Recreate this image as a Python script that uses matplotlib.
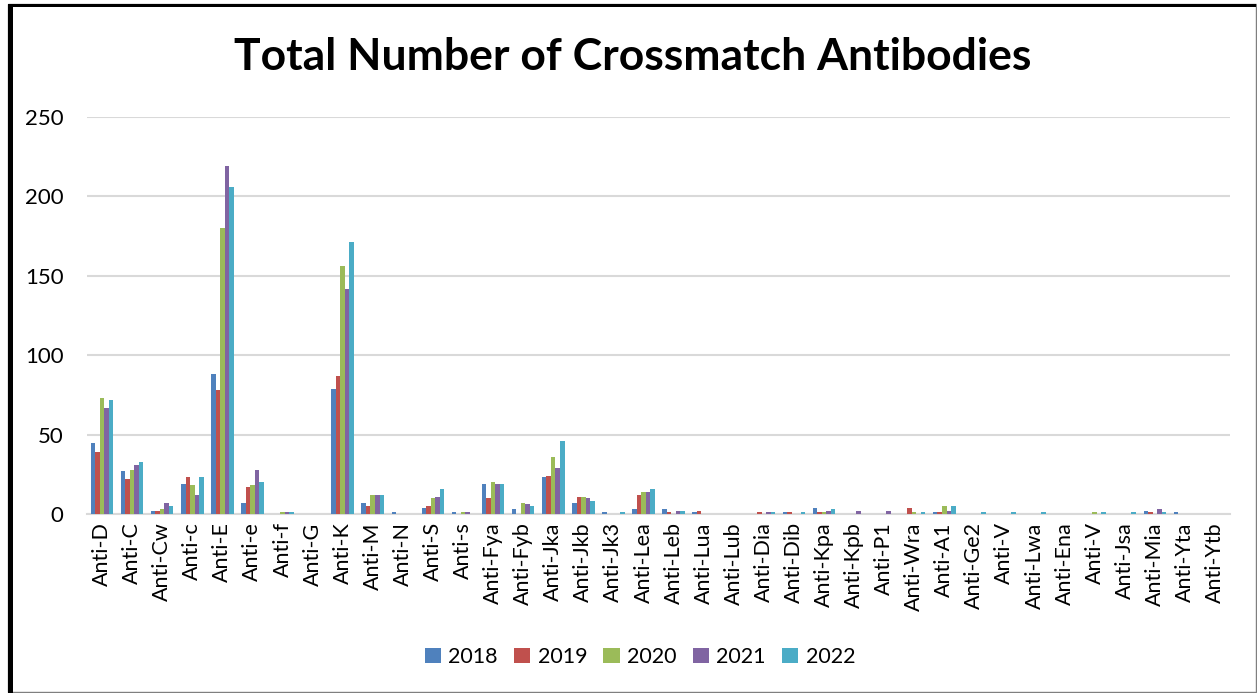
import matplotlib
matplotlib.use("Agg")
import matplotlib.pyplot as plt
from matplotlib.patches import Rectangle
import numpy as np

antibodies = ["Anti-D", "Anti-C", "Anti-Cw", "Anti-c", "Anti-E", "Anti-e", "Anti-f", "Anti-G",
              "Anti-K", "Anti-M", "Anti-N", "Anti-S", "Anti-s", "Anti-Fya", "Anti-Fyb", "Anti-Jka",
              "Anti-Jkb", "Anti-Jk3", "Anti-Lea", "Anti-Leb", "Anti-Lua", "Anti-Lub", "Anti-Dia",
              "Anti-Dib", "Anti-Kpa", "Anti-Kpb", "Anti-P1", "Anti-Wra", "Anti-A1", "Anti-Ge2",
              "Anti-V", "Anti-Lwa", "Anti-Ena", "Anti-V", "Anti-Jsa", "Anti-Mia", "Anti-Yta", "Anti-Ytb"]

y2018 = [45, 27, 2, 19, 88, 7, 0, 0, 79, 7, 1, 4, 1, 19, 3, 23, 7, 1, 3, 3, 1, 0, 0, 1, 4, 0, 0, 0, 1, 0, 0, 0, 0, 0, 0, 2, 1, 0]
y2019 = [39, 22, 2, 23, 78, 17, 0, 0, 87, 5, 0, 5, 0, 10, 0, 24, 11, 0, 12, 1, 2, 0, 1, 1, 1, 0, 0, 4, 1, 0, 0, 0, 0, 0, 0, 1, 0, 0]
y2020 = [73, 28, 3, 18, 180, 18, 1, 0, 156, 12, 0, 10, 1, 20, 7, 36, 11, 0, 14, 0, 0, 0, 0, 0, 1, 0, 0, 1, 5, 0, 0, 0, 0, 1, 0, 0, 0, 0]
y2021 = [67, 31, 7, 12, 219, 28, 1, 0, 142, 12, 0, 11, 1, 19, 6, 29, 10, 0, 14, 2, 0, 0, 1, 0, 2, 2, 2, 0, 2, 0, 0, 0, 0, 0, 0, 3, 0, 0]
y2022 = [72, 33, 5, 23, 206, 20, 1, 0, 171, 12, 0, 16, 0, 19, 5, 46, 8, 1, 16, 2, 0, 0, 1, 1, 3, 0, 0, 1, 5, 1, 1, 1, 0, 1, 1, 1, 0, 0]

years = ["2018", "2019", "2020", "2021", "2022"]
series = [y2018, y2019, y2020, y2021, y2022]
colors = ["#4F81BD", "#C0504D", "#9BBB59", "#8064A2", "#4BACC6"]

plt.rcParams['font.family'] = ['Lato', 'DejaVu Sans']

W, H = 1257, 693
fig = plt.figure(figsize=(W / 100, H / 100), dpi=100)
ax = fig.add_axes([87 / W, 1 - 514 / H, (1230 - 87) / W, (514 - 117) / H])

x = np.arange(len(antibodies))
bw = 0.15
for i, (yr, vals, c) in enumerate(zip(years, series, colors)):
    ax.bar(x + (i - 2) * bw, vals, width=bw, color=c, label=yr, zorder=3)

ax.set_xlim(-0.5, len(antibodies) - 0.5)
ax.set_ylim(0, 250)
ax.set_yticks(np.arange(0, 251, 50))
ax.yaxis.grid(True, color="#D9D9D9", linewidth=1.5, zorder=0)
ax.set_axisbelow(True)
for s in ["top", "right", "left"]:
    ax.spines[s].set_visible(False)
ax.spines["bottom"].set_color("#D9D9D9")
ax.spines["bottom"].set_linewidth(1.5)
ax.tick_params(axis="y", length=0, pad=17, labelsize=16)
ax.tick_params(axis="x", length=0, pad=6, labelsize=15.5)
ax.set_xticks(x)
ax.set_xticklabels(antibodies, rotation=90, va="top", ha="center")

fig.text(633 / W, 1 - 57 / H, "Total Number of Crossmatch Antibodies", ha="center", va="center",
         fontsize=32, fontweight="bold")

fig.legend(loc="center", bbox_to_anchor=(640 / W, 1 - 657 / H), ncol=5, frameon=False,
           fontsize=15.5, handlelength=0.75, handleheight=0.75, columnspacing=0.75, handletextpad=0.35)

# frame around the chart
fig.add_artist(Rectangle((8 / W, 1 / H), (1256 - 8) / W, (689 - 1) / H, transform=fig.transFigure,
                         fill=False, edgecolor="#7F7F7F", linewidth=1))
fig.add_artist(Rectangle((8 / W, 0), 5 / W, 1 - 4 / H, transform=fig.transFigure, color="black", lw=0))
fig.add_artist(Rectangle((8 / W, 1 - 7 / H), (1256 - 8) / W, 3 / H, transform=fig.transFigure, color="black", lw=0))

fig.savefig("out.png", dpi=100)
